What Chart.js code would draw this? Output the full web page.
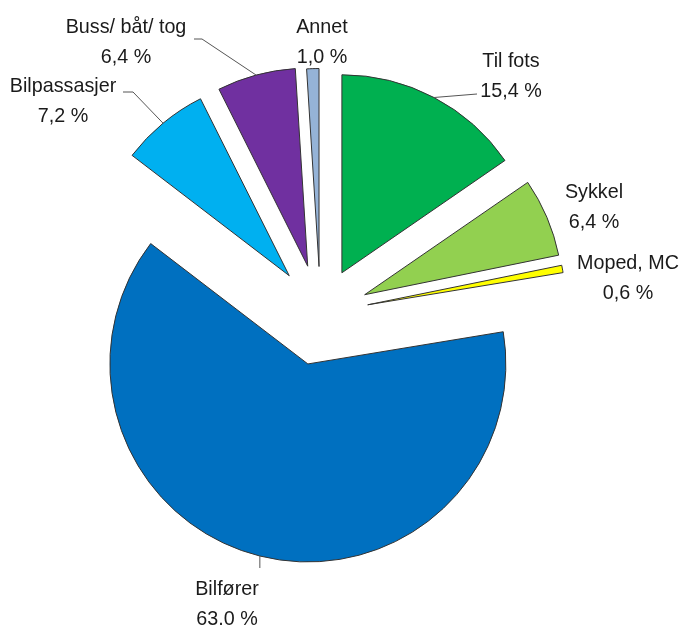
<!DOCTYPE html>
<html lang="no">
<head>
    <meta charset="UTF-8">
    <title>Reisemiddelfordeling</title>
    <script src="https://cdn.jsdelivr.net/npm/chart.js"></script>
    <style>
        body {
            margin: 0;
            background: #fff;
        }
        #pie {
            display: block;
        }
    </style>
</head>
<body>
    <canvas id="pie" width="683" height="626"></canvas>

    <script>
        // data, clockwise from 12 o'clock
        const categories = ['Til fots', 'Sykkel', 'Moped, MC', 'Bilfører', 'Bilpassasjer', 'Buss/ båt/ tog', 'Annet'];
        const shares = [15.4, 6.4, 0.6, 63.0, 7.2, 6.4, 1.0];
        const shareLabels = ['15,4 %', '6,4 %', '0,6 %', '63.0 %', '7,2 %', '6,4 %', '1,0 %'];

        // styling
        const sliceColors = ['#00b050', '#92d050', '#ffff00', '#0070c0', '#00b0f0', '#7030a0', '#95b3d7'];
        const explode = [46, 48, 48, 52, 49, 49, 47];
        // label text centre / first baseline, relative to pie centre
        const labelPos = [
            [190.5, -246.5], [273.5, -115.5], [307.5, -44.5], [-93.5, 281.5],
            [-257.5, -221.5], [-194.5, -280.5], [1.5, -280.5]
        ];
        // leader line points after the arc point (relative to pie centre), null = none
        const leaders = [
            [[156.5, -219.5]], null, null, [[null, 254.5]],
            [[-187.5, -221.5], [-197.5, -221.5]], [[-118.5, -274.5], [-126.5, -274.5]], null
        ];

        const explodePlugin = {
            id: 'explode',
            afterDatasetUpdate(chart, args) {
                args.meta.data.forEach((arc, i) => {
                    const mid = (arc.startAngle + arc.endAngle) / 2;
                    arc.x += Math.cos(mid) * explode[i];
                    arc.y += Math.sin(mid) * explode[i];
                });
            }
        };

        const labelPlugin = {
            id: 'sliceLabels',
            afterDatasetsDraw(chart) {
                const ctx = chart.ctx;
                const area = chart.chartArea;
                const cx = (area.left + area.right) / 2;
                const cy = (area.top + area.bottom) / 2;
                const arcs = chart.getDatasetMeta(0).data;
                ctx.save();
                ctx.strokeStyle = '#555';
                ctx.lineWidth = 1;
                arcs.forEach((arc, i) => {
                    if (!leaders[i]) return;
                    const mid = (arc.startAngle + arc.endAngle) / 2;
                    const sx = arc.x + Math.cos(mid) * arc.outerRadius;
                    const sy = arc.y + Math.sin(mid) * arc.outerRadius;
                    ctx.beginPath();
                    ctx.moveTo(sx, sy);
                    leaders[i].forEach(p => {
                        ctx.lineTo(p[0] === null ? sx : cx + p[0], cy + p[1]);
                    });
                    ctx.stroke();
                });
                ctx.fillStyle = '#1a1a1a';
                ctx.font = '21px "Liberation Sans", Arial, sans-serif';
                ctx.textAlign = 'center';
                ctx.textBaseline = 'alphabetic';
                categories.forEach((name, i) => {
                    const x = cx + labelPos[i][0];
                    const y = cy + labelPos[i][1];
                    // the original text is a little condensed
                    ctx.save();
                    ctx.translate(x, y);
                    ctx.scale(0.94, 1);
                    ctx.fillText(name, 0, 0);
                    ctx.fillText(shareLabels[i], 0, 29.5);
                    ctx.restore();
                });
                ctx.restore();
            }
        };

        new Chart(document.getElementById('pie'), {
            type: 'pie',
            data: {
                labels: categories,
                datasets: [{
                    data: shares,
                    backgroundColor: sliceColors,
                    borderColor: '#333',
                    borderWidth: 1,
                    borderJoinStyle: 'miter'
                }]
            },
            options: {
                responsive: false,
                animation: false,
                layout: {
                    padding: { left: 122, right: 164, top: 115, bottom: 114 }
                },
                plugins: {
                    legend: { display: false },
                    tooltip: { enabled: false }
                }
            },
            plugins: [explodePlugin, labelPlugin]
        });
    </script>
</body>
</html>
